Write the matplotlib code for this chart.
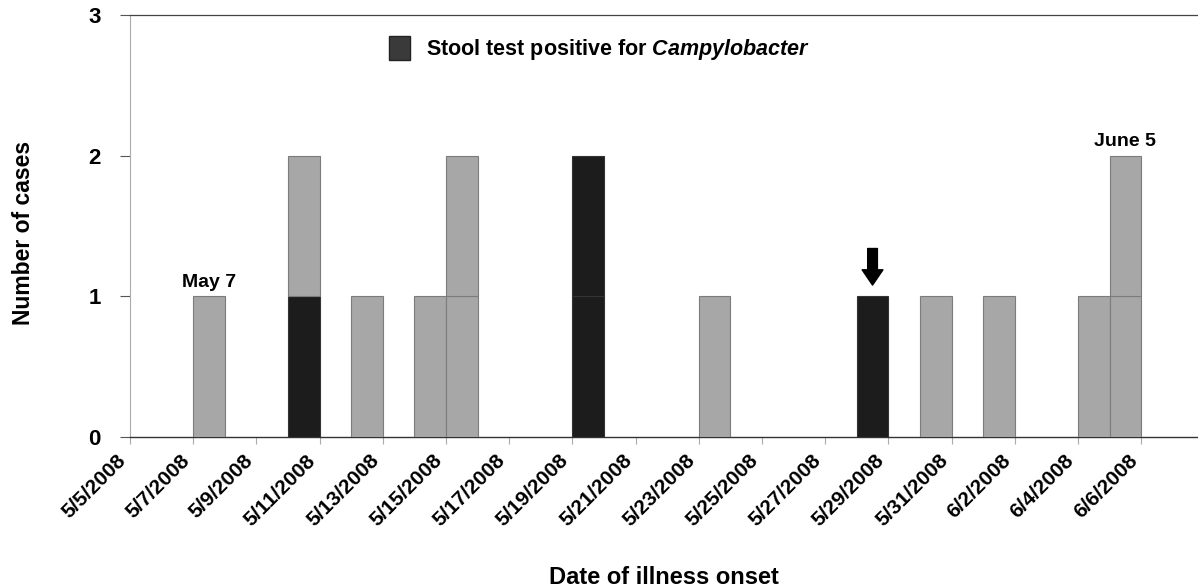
import matplotlib
matplotlib.use("Agg")
import matplotlib.pyplot as plt
import matplotlib.dates as mdates
from matplotlib.patches import Patch
from matplotlib.transforms import ScaledTranslation
import datetime as dt

plt.rcParams['font.family'] = ['Liberation Sans', 'DejaVu Sans']
plt.rcParams['mathtext.fontset'] = 'custom'
plt.rcParams['mathtext.it'] = 'Liberation Sans:italic:bold'
plt.rcParams['mathtext.rm'] = 'Liberation Sans:bold'

# ---- data ----
onset_dates = ["2008-05-07", "2008-05-10", "2008-05-12", "2008-05-14", "2008-05-15",
               "2008-05-19", "2008-05-23", "2008-05-28", "2008-05-30", "2008-06-01",
               "2008-06-04", "2008-06-05"]
positive_cases = [0, 1, 0, 0, 0, 2, 0, 1, 0, 0, 0, 0]   # stool test positive (black)
other_cases    = [1, 1, 1, 1, 2, 0, 1, 0, 1, 1, 1, 2]   # other cases (gray)
tick_labels = ["5/5/2008", "5/7/2008", "5/9/2008", "5/11/2008", "5/13/2008", "5/15/2008",
               "5/17/2008", "5/19/2008", "5/21/2008", "5/23/2008", "5/25/2008", "5/27/2008",
               "5/29/2008", "5/31/2008", "6/2/2008", "6/4/2008", "6/6/2008"]
annotations = {"May 7": "2008-05-07", "June 5": "2008-06-05"}
arrow_date = "2008-05-28"
y_ticks = [0, 1, 2, 3]

GRAY = "#a7a7a7"
BLACK = "#1c1c1c"

fig = plt.figure(figsize=(11.98, 5.88), dpi=100)
ax = fig.add_axes([130/1198, 1-437/588, 1068/1198, 422/588])

dates = [mdates.date2num(dt.date.fromisoformat(d)) for d in onset_dates]
totals = {}
for d, p, o in zip(dates, positive_cases, other_cases):
    k = 0
    for _ in range(p):
        ax.bar(d, 1, width=1.0, bottom=k, align='edge', color=BLACK,
               edgecolor="#333333", linewidth=0.8, zorder=3)
        k += 1
    for _ in range(o):
        ax.bar(d, 1, width=1.0, bottom=k, align='edge', color=GRAY,
               edgecolor="#7c7c7c", linewidth=0.8, zorder=3)
        k += 1
    totals[d] = k

tick_pos = [mdates.date2num(dt.datetime.strptime(t, "%m/%d/%Y").date()) for t in tick_labels]
ax.set_xlim(tick_pos[0], tick_pos[0] + 33.8)
ax.set_ylim(0, 3)
ax.set_xticks(tick_pos)
ax.set_xticklabels(tick_labels, rotation=45, ha='right', fontsize=15, fontweight='bold')
off = ScaledTranslation(-15/100, 0, fig.dpi_scale_trans)
for lab in ax.get_xticklabels():
    lab.set_transform(lab.get_transform() + off)
ax.set_yticks(y_ticks)
ax.set_yticklabels([str(v) for v in y_ticks], fontsize=16, fontweight='bold')

ax.tick_params(axis='y', direction='out', length=7, width=0.8, color='#555555', pad=14)
ax.tick_params(axis='x', direction='out', length=5, width=0.8, color='#aaaaaa', pad=5)

ax.spines['right'].set_visible(False)
ax.spines['top'].set_color('#444444')
ax.spines['top'].set_linewidth(0.9)
ax.spines['left'].set_color('#aaaaaa')
ax.spines['left'].set_linestyle((0, (1, 1)))
ax.spines['left'].set_linewidth(0.8)
ax.spines['bottom'].set_color('#333333')
ax.spines['bottom'].set_linewidth(1.0)

ax.set_ylabel("Number of cases", fontsize=16.5, fontweight='bold')
ax.yaxis.set_label_coords(-0.0995, 0.483)
ax.yaxis.label.set_va('center')
ax.set_xlabel("Date of illness onset", fontsize=17, fontweight='bold')
ax.xaxis.set_label_coords(0.5, -0.332)
ax.xaxis.label.set_va('center')

for txt, d in annotations.items():
    x = mdates.date2num(dt.date.fromisoformat(d))
    ax.annotate(txt, xy=(x + 0.5, totals[x]), xytext=(0, 4), textcoords='offset points',
                ha='center', va='bottom', fontsize=14, fontweight='bold')

ax_x = mdates.date2num(dt.date.fromisoformat(arrow_date)) + 0.5
ax.annotate("", xy=(ax_x, totals[ax_x - 0.5] + 0.08), xytext=(ax_x, totals[ax_x - 0.5] + 0.34),
            arrowprops=dict(arrowstyle='simple,head_length=1.1,head_width=1.5,tail_width=0.7',
                            color='black', shrinkA=0, shrinkB=0), zorder=5)

handle = Patch(facecolor="#3a3a3a", edgecolor="#222222")
ax.legend([handle], [r"Stool test positive for $Campylobacter$"], loc='upper left',
          bbox_to_anchor=(0.224, 0.995), frameon=False,
          handlelength=1.0, handleheight=1.3, handletextpad=0.75,
          prop={'weight': 'bold', 'size': 15.5})

fig.savefig("out.png", dpi=100)
